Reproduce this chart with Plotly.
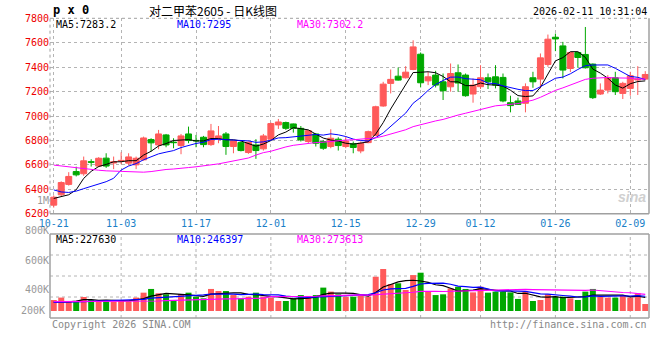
import plotly.graph_objects as go

# ---------------- data ----------------
dates = [
    "2025-10-21", "2025-10-22", "2025-10-23", "2025-10-24", "2025-10-27", "2025-10-28", "2025-10-29", "2025-10-30", "2025-10-31",
    "2025-11-03", "2025-11-04", "2025-11-05", "2025-11-06", "2025-11-07", "2025-11-10", "2025-11-11", "2025-11-12", "2025-11-13",
    "2025-11-14", "2025-11-17", "2025-11-18", "2025-11-19", "2025-11-20", "2025-11-21", "2025-11-24", "2025-11-25", "2025-11-26",
    "2025-11-27", "2025-11-28", "2025-12-01", "2025-12-02", "2025-12-03", "2025-12-04", "2025-12-05", "2025-12-08", "2025-12-09",
    "2025-12-10", "2025-12-11", "2025-12-12", "2025-12-15", "2025-12-16", "2025-12-17", "2025-12-18", "2025-12-19", "2025-12-22",
    "2025-12-23", "2025-12-24", "2025-12-25", "2025-12-26", "2025-12-29", "2025-12-30", "2025-12-31", "2026-01-05", "2026-01-06",
    "2026-01-07", "2026-01-08", "2026-01-09", "2026-01-12", "2026-01-13", "2026-01-14", "2026-01-15", "2026-01-16", "2026-01-19",
    "2026-01-20", "2026-01-21", "2026-01-22", "2026-01-23", "2026-01-26", "2026-01-27", "2026-01-28", "2026-01-29", "2026-01-30",
    "2026-02-02", "2026-02-03", "2026-02-04", "2026-02-05", "2026-02-06", "2026-02-09", "2026-02-10", "2026-02-11",
]

opens = [6270, 6355, 6440, 6545, 6527, 6625, 6590, 6655, 6615, 6632,
         6614, 6600, 6641, 6807, 6763, 6845, 6786, 6758, 6853, 6800,
         6826, 6766, 6815, 6853, 6750, 6782, 6701, 6763, 6731, 6810,
         6927, 6946, 6935, 6899, 6791, 6853, 6791, 6750, 6810, 6750,
         6772, 6714, 6782, 6840, 7082, 7267, 7326, 7313, 7381, 7506,
         7288, 7335, 7280, 7239, 7354, 7335, 7180, 7240, 7313, 7321,
         7316, 7109, 7123, 7104, 7313, 7302, 7422, 7645, 7574, 7389,
         7520, 7504, 7425, 7180, 7212, 7313, 7185, 7226, 7295, 7302]
highs = [6350, 6465, 6540, 6585, 6668, 6646, 6663, 6695, 6668, 6703,
         6695, 6668, 6831, 6818, 6886, 6853, 6818, 6853, 6913, 6845,
         6837, 6935, 6918, 6869, 6800, 6790, 6790, 6810, 6853, 6946,
         6976, 6954, 6938, 6918, 6886, 6859, 6804, 6891, 6826, 6831,
         6791, 6791, 6880, 7084, 7280, 7381, 7397, 7408, 7620, 7520,
         7362, 7370, 7348, 7430, 7422, 7348, 7308, 7416, 7348, 7416,
         7348, 7166, 7150, 7267, 7362, 7512, 7667, 7675, 7607, 7525,
         7525, 7729, 7430, 7267, 7335, 7362, 7280, 7362, 7408, 7367]
lows = [6250, 6345, 6430, 6505, 6510, 6586, 6580, 6575, 6565, 6605,
        6595, 6565, 6635, 6709, 6728, 6744, 6736, 6687, 6777, 6744,
        6744, 6755, 6777, 6682, 6695, 6710, 6690, 6649, 6717, 6805,
        6894, 6886, 6864, 6791, 6777, 6750, 6723, 6736, 6717, 6736,
        6695, 6695, 6777, 6835, 7076, 7185, 7290, 7307, 7375, 7234,
        7253, 7234, 7131, 7199, 7199, 7158, 7109, 7221, 7221, 7226,
        7112, 7030, 7090, 7030, 7231, 7226, 7403, 7531, 7308, 7360,
        7395, 7389, 7139, 7172, 7185, 7172, 7139, 7166, 7172, 7294]
closes = [6335, 6455, 6505, 6518, 6633, 6622, 6654, 6590, 6625, 6636,
          6665, 6654, 6820, 6780, 6853, 6763, 6782, 6837, 6799, 6797,
          6766, 6878, 6837, 6750, 6796, 6717, 6785, 6717, 6837, 6938,
          6951, 6899, 6899, 6804, 6880, 6777, 6736, 6818, 6758, 6796,
          6742, 6777, 6872, 7076, 7261, 7300, 7294, 7359, 7566, 7272,
          7321, 7253, 7207, 7348, 7270, 7166, 7253, 7313, 7280, 7253,
          7123, 7085, 7095, 7240, 7280, 7476, 7629, 7631, 7376, 7520,
          7479, 7395, 7150, 7212, 7313, 7199, 7267, 7330, 7302, 7340]
volumes = [333000, 349000, 322000, 322000, 353000, 333000, 322000, 333000, 322000, 333000,
           322000, 349000, 382000, 407000, 378000, 371000, 333000, 373000, 382000, 355000,
           344000, 407000, 393000, 393000, 366000, 344000, 355000, 382000, 355000, 349000,
           326000, 326000, 344000, 366000, 360000, 366000, 416000, 389000, 371000, 355000,
           355000, 360000, 355000, 489000, 541000, 440000, 445000, 400000, 500000, 516000,
           393000, 366000, 371000, 411000, 422000, 407000, 384000, 422000, 382000, 389000,
           389000, 384000, 340000, 389000, 326000, 333000, 371000, 355000, 355000, 344000,
           333000, 389000, 407000, 355000, 349000, 349000, 366000, 349000, 378000, 306000]

# moving-average values before enough history is visible
ma5_head = [6325, 6341, 6355, 6396]
ma10_head = [6395, 6378, 6374, 6385, 6405, 6425, 6445, 6462, 6490]
ma30_head = [6598, 6590, 6582, 6576, 6568, 6562, 6556, 6551, 6548, 6545,
             6542, 6540, 6540, 6545, 6555, 6562, 6566, 6569, 6578, 6584,
             6590, 6597, 6608, 6620, 6632, 6643, 6656, 6680, 6700]
vma5_head = [318000, 318000, 320000, 325000]
vma10_head = [317000, 317000, 318000, 320000, 322000, 324000, 326000, 328000, 330000]
vma30_head = [322000, 322000, 322000, 322000, 322000, 322000, 322000, 322000, 322000, 322000,
              322000, 322000, 322000, 324000, 326000, 328000, 330000, 332000, 334000, 336000,
              337000, 338000, 339000, 340000, 341000, 342000, 343000, 344000, 345000]

date_ticks = ["2025-10-21", "2025-11-03", "2025-11-17", "2025-12-01", "2025-12-15",
              "2025-12-29", "2026-01-12", "2026-01-26", "2026-02-09"]
date_tick_text = ["10-21", "11-03", "11-17", "12-01", "12-15", "12-29", "01-12", "01-26", "02-09"]
price_ticks = [6200, 6400, 6600, 6800, 7000, 7200, 7400, 7600, 7800]
vol_ticks = [400000, 600000, 800000, 1000000]
vol_tick_text = ["400K", "600K", "800K", "1M"]

title_text = "对二甲苯2605 - 日K线图"
stamp_text = "2026-02-11 10:31:04"
ma_price_text = ["MA5:7283.2", "MA10:7295", "MA30:7302.2"]
ma_vol_text = ["MA5:227630", "MA10:246397", "MA30:273613"]


def moving_avg(vals, n, head):
    out = list(head)
    for i in range(len(head), len(vals)):
        out.append(sum(vals[i - n + 1:i + 1]) / n)
    return out


ma5 = moving_avg(closes, 5, ma5_head)
ma10 = moving_avg(closes, 10, ma10_head)
ma30 = moving_avg(closes, 30, ma30_head)
vma5 = moving_avg(volumes, 5, vma5_head)
vma10 = moving_avg(volumes, 10, vma10_head)
vma30 = moving_avg(volumes, 30, vma30_head)

# ---------------- style ----------------
W, H = 660, 360
L, R = 50, 11
PW = W - L - R
RED = "#ff5a5a"
GREEN = "#00a800"
MONO = "DejaVu Sans Mono"
GRID = "#b4b4b4"
FRAME = "#a0a0a0"


def px(x):
    return (x - L) / PW


def py(y):
    return 1 - y / H


price_top, price_bot = 18.3, 213.7
vol_top, vol_bot = 234, 318
vol_base_px = 311
vol_per_px = 6711.0          # volume units per pixel in the volume panel
vol_range_lo = 259000
vol_dom_top_px = 195
vol_range_hi = vol_range_lo + (vol_base_px - vol_dom_top_px) * vol_per_px

bar_colors = [RED if c >= o else GREEN for o, c in zip(opens, closes)]

fig = go.Figure()
fig.add_trace(go.Candlestick(
    x=dates, open=opens, high=highs, low=lows, close=closes,
    increasing=dict(line=dict(color=RED, width=1), fillcolor=RED),
    decreasing=dict(line=dict(color=GREEN, width=1), fillcolor=GREEN),
    xaxis="x", yaxis="y", hoverinfo="skip", showlegend=False))
for vals, col in [(ma5, "black"), (ma10, "#0000ff"), (ma30, "#ff00ff")]:
    fig.add_trace(go.Scatter(x=dates, y=vals, mode="lines", line=dict(color=col, width=1),
                             xaxis="x", yaxis="y", hoverinfo="skip", showlegend=False))
fig.add_trace(go.Bar(x=dates, y=volumes, marker=dict(color=bar_colors, line=dict(width=0)),
                     xaxis="x2", yaxis="y2", hoverinfo="skip", showlegend=False))
for vals, col in [(vma5, "black"), (vma10, "#0000ff"), (vma30, "#ff00ff")]:
    fig.add_trace(go.Scatter(x=dates, y=vals, mode="lines", line=dict(color=col, width=1.2),
                             xaxis="x2", yaxis="y2", hoverinfo="skip", showlegend=False))

shapes = []
# price frame
shapes.append(dict(type="line", xref="paper", yref="paper", x0=0, x1=0, y0=py(price_bot), y1=py(price_top),
                   line=dict(color=FRAME, width=1, dash="dot")))
shapes.append(dict(type="line", xref="paper", yref="paper", x0=0, x1=1, y0=py(price_top), y1=py(price_top),
                   line=dict(color=FRAME, width=1, dash="dot")))
shapes.append(dict(type="line", xref="paper", yref="paper", x0=1, x1=1, y0=py(price_bot), y1=py(price_top),
                   line=dict(color=FRAME, width=1.5)))
shapes.append(dict(type="line", xref="paper", yref="paper", x0=0, x1=1, y0=py(price_bot), y1=py(price_bot),
                   line=dict(color=FRAME, width=1.5)))
# volume frame
for (x0, y0, x1, y1) in [(0, vol_top, 1, vol_top), (0, vol_bot, 1, vol_bot),
                         (0, vol_top, 0, vol_bot), (1, vol_top, 1, vol_bot)]:
    shapes.append(dict(type="line", xref="paper", yref="paper", x0=x0, x1=x1, y0=py(y0), y1=py(y1),
                       line=dict(color=FRAME, width=1.5)))
# volume grid
for k in (1, 2, 3):
    yy = vol_top + k * (vol_bot - vol_top) / 4
    shapes.append(dict(type="line", xref="paper", yref="paper", x0=0, x1=1, y0=py(yy), y1=py(yy),
                       line=dict(color=GRID, width=1, dash="dot"), layer="below"))
for d in date_ticks[1:]:
    shapes.append(dict(type="line", xref="x", yref="paper", x0=d, x1=d, y0=py(vol_bot), y1=py(vol_top),
                       line=dict(color=GRID, width=1, dash="dot"), layer="below"))

ann = []
def A(text, x, y, color="black", size=10, xanchor="left", family=MONO):
    ann.append(dict(text=text, x=px(x), y=py(y), xref="paper", yref="paper", showarrow=False,
                    xanchor=xanchor, yanchor="middle", font=dict(family=family, size=size, color=color)))

A("<b>p x 0</b>", 51, 10, size=12)
A(title_text, 213, 10, size=12, xanchor="center", family="Noto Sans CJK SC")
A(stamp_text, 649, 11, xanchor="right")
for t, x, c in zip(ma_price_text, [54, 175, 295], ["black", "#0000ff", "#ff00ff"]):
    A(t, x, 24.5, color=c)
for t, x, c in zip(ma_vol_text, [54, 175, 295], ["black", "#0000ff", "#ff00ff"]):
    A(t, x, 239.5, color=c)
A("200K", 47, 310, color="#999999", xanchor="right")
A("Copyright 2026 SINA.COM", 50, 324, color="#888888")
A("http://finance.sina.com.cn", 649, 324, color="#888888", xanchor="right")
A("<b><i>sina</i></b>", 648, 197, color="#d0d0d0", size=14, xanchor="right", family="Liberation Sans")

fig.update_layout(
    width=W, height=H, margin=dict(l=L, r=R, t=0, b=0, autoexpand=False),
    paper_bgcolor="white", plot_bgcolor="rgba(0,0,0,0)", showlegend=False,
    bargap=0.2, boxgap=0.2, boxgroupgap=0,
    xaxis=dict(domain=[0, 1], anchor="y", type="category", range=[-0.5, len(dates) - 0.5],
               tickmode="array", tickvals=date_ticks, ticktext=date_tick_text,
               tickfont=dict(family=MONO, size=10, color="#1a7fc8"), ticks="", ticklabelstandoff=2,
               showgrid=True, gridcolor=GRID, griddash="dot", gridwidth=1, automargin=False,
               showline=False, zeroline=False, rangeslider=dict(visible=False), fixedrange=True),
    yaxis=dict(domain=[py(price_bot), py(price_top)], anchor="x", range=[6200, 7800],
               tickmode="array", tickvals=price_ticks, ticks="", automargin=False,
               tickfont=dict(family=MONO, size=10, color="#ee0000"),
               showgrid=True, gridcolor=GRID, griddash="dot", gridwidth=1,
               showline=False, zeroline=False, fixedrange=True),
    xaxis2=dict(domain=[0, 1], anchor="y2", type="category", matches="x", automargin=False,
                showticklabels=False, ticks="", showgrid=False, showline=False, zeroline=False),
    yaxis2=dict(domain=[py(vol_base_px), py(vol_dom_top_px)], anchor="x2", automargin=False,
                range=[vol_range_lo, vol_range_hi],
                tickmode="array", tickvals=vol_ticks, ticktext=vol_tick_text, ticks="",
                tickfont=dict(family=MONO, size=10, color="#999999"),
                showgrid=False, showline=False, zeroline=False),
    shapes=shapes, annotations=ann,
)

fig.write_html("out.html", config={"displayModeBar": False},
               post_script="document.body.style.margin='0';document.body.style.overflow='hidden';")
